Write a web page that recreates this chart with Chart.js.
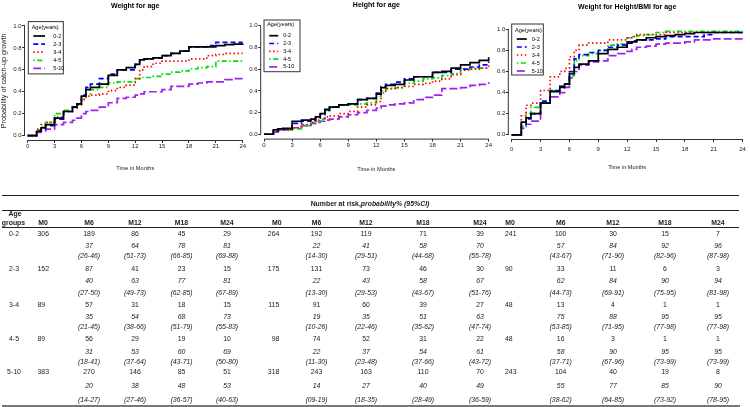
<!DOCTYPE html>
<html><head><meta charset="utf-8">
<script src="https://cdn.jsdelivr.net/npm/chart.js@4.4.0/dist/chart.umd.min.js"></script>
<style>
html,body{margin:0;padding:0;background:#fff;}
body{width:750px;height:407px;overflow:hidden;position:relative;font-family:"Liberation Sans",Arial,sans-serif;}
canvas{position:absolute;}
#tbl{position:absolute;left:0;top:0;width:750px;height:407px;will-change:transform;}
.t{position:absolute;white-space:nowrap;font-size:6.9px;line-height:10px;color:#1a1a1a;}
.b{font-weight:bold;}
.i{font-style:italic;}
.hl{position:absolute;height:0;border-top:1px solid #222;}
</style></head><body>
<canvas id="c1" width="250" height="185" style="left:0;top:0"></canvas>
<canvas id="c2" width="260" height="185" style="left:240px;top:0"></canvas>
<canvas id="c3" width="265" height="185" style="left:485px;top:0"></canvas>
<div id="tbl"></div>
<script>
// ---------------- data ----------------
const ageGroups = ["0-2", "2-3", "3-4", "4-5", "5-10"];
const months = [0, 1, 1.5, 2, 3, 4, 5, 5.5, 6, 6.5, 7, 8, 9, 10, 11, 12, 12.5, 13, 14, 15, 16, 17, 18, 19, 20, 21, 22, 23, 24];
const xTickValues = [0, 3, 6, 9, 12, 15, 18, 21, 24];
const yTickValues = [0, 0.2, 0.4, 0.6, 0.8, 1.0];
const chartTitles = ["Weight for age", "Height for age", "Weight for Height/BMI for age"];
const xAxisTitle = "Time in Months";
const yAxisTitle = "Probability of catch-up growth";
const legendTitle = "Age(years)";

const wfa02  = [0, 0.04, 0.07, 0.10, 0.16, 0.22, 0.26, 0.29, 0.36, 0.42, 0.44, 0.47, 0.55, 0.60, 0.62, 0.65, 0.69, 0.70, 0.71, 0.73, 0.75, 0.77, 0.81, 0.81, 0.81, 0.82, 0.83, 0.835, 0.84];
const wfa23  = [0, 0.04, 0.06, 0.09, 0.15, 0.22, 0.26, 0.29, 0.37, 0.44, 0.47, 0.52, 0.56, 0.60, 0.60, 0.65, 0.69, 0.70, 0.71, 0.73, 0.75, 0.77, 0.81, 0.81, 0.82, 0.85, 0.85, 0.85, 0.85];
const wfa34  = [0, 0.06, 0.10, 0.12, 0.17, 0.22, 0.25, 0.28, 0.33, 0.36, 0.37, 0.38, 0.41, 0.44, 0.46, 0.52, 0.60, 0.63, 0.66, 0.68, 0.68, 0.68, 0.70, 0.70, 0.73, 0.74, 0.75, 0.75, 0.75];
const wfa45  = [0, 0.05, 0.08, 0.12, 0.20, 0.23, 0.26, 0.28, 0.33, 0.38, 0.42, 0.44, 0.48, 0.49, 0.49, 0.52, 0.53, 0.53, 0.54, 0.56, 0.58, 0.59, 0.61, 0.62, 0.63, 0.68, 0.68, 0.68, 0.68];
const wfa510 = [0, 0.03, 0.04, 0.06, 0.10, 0.12, 0.14, 0.16, 0.20, 0.22, 0.23, 0.26, 0.30, 0.34, 0.35, 0.37, 0.38, 0.40, 0.40, 0.42, 0.45, 0.45, 0.47, 0.48, 0.49, 0.49, 0.51, 0.52, 0.525];

const hfa02  = [0, 0.04, 0.05, 0.055, 0.12, 0.13, 0.14, 0.16, 0.19, 0.23, 0.25, 0.27, 0.28, 0.32, 0.33, 0.37, 0.43, 0.45, 0.46, 0.50, 0.53, 0.53, 0.57, 0.58, 0.61, 0.64, 0.66, 0.68, 0.71];
const hfa23  = [0, 0.03, 0.05, 0.05, 0.10, 0.12, 0.13, 0.15, 0.18, 0.22, 0.25, 0.27, 0.28, 0.32, 0.33, 0.38, 0.44, 0.46, 0.48, 0.51, 0.53, 0.53, 0.57, 0.57, 0.60, 0.60, 0.62, 0.64, 0.67];
const hfa34  = [0, 0.03, 0.04, 0.04, 0.06, 0.09, 0.11, 0.13, 0.15, 0.16, 0.17, 0.19, 0.21, 0.25, 0.27, 0.30, 0.38, 0.42, 0.43, 0.44, 0.46, 0.47, 0.49, 0.51, 0.55, 0.59, 0.60, 0.61, 0.64];
const hfa45  = [0, 0.03, 0.04, 0.04, 0.05, 0.08, 0.10, 0.12, 0.14, 0.22, 0.25, 0.27, 0.27, 0.28, 0.29, 0.35, 0.40, 0.42, 0.43, 0.47, 0.49, 0.51, 0.52, 0.54, 0.56, 0.60, 0.61, 0.61, 0.61];
const hfa510 = [0, 0.02, 0.03, 0.04, 0.06, 0.08, 0.10, 0.11, 0.12, 0.13, 0.14, 0.16, 0.18, 0.20, 0.22, 0.24, 0.26, 0.27, 0.28, 0.29, 0.32, 0.34, 0.36, 0.42, 0.42, 0.43, 0.45, 0.46, 0.48];

const whz02  = [0, 0.12, 0.16, 0.20, 0.30, 0.41, 0.45, 0.48, 0.58, 0.64, 0.67, 0.70, 0.77, 0.81, 0.83, 0.87, 0.88, 0.90, 0.92, 0.93, 0.94, 0.95, 0.96, 0.97, 0.97, 0.97, 0.97, 0.97, 0.97];
const whz23  = [0, 0.10, 0.15, 0.20, 0.32, 0.42, 0.46, 0.48, 0.60, 0.72, 0.76, 0.78, 0.80, 0.83, 0.85, 0.88, 0.89, 0.90, 0.90, 0.91, 0.93, 0.93, 0.93, 0.93, 0.95, 0.97, 0.97, 0.97, 0.97];
const whz34  = [0, 0.18, 0.28, 0.30, 0.42, 0.55, 0.60, 0.63, 0.74, 0.80, 0.85, 0.87, 0.87, 0.90, 0.90, 0.92, 0.93, 0.95, 0.95, 0.95, 0.97, 0.97, 0.97, 0.97, 0.97, 0.97, 0.97, 0.97, 0.97];
const whz45  = [0, 0.08, 0.20, 0.26, 0.30, 0.42, 0.46, 0.48, 0.56, 0.70, 0.75, 0.77, 0.80, 0.85, 0.86, 0.92, 0.93, 0.94, 0.95, 0.97, 0.98, 0.98, 0.98, 0.98, 0.98, 0.98, 0.98, 0.98, 0.98];
const whz510 = [0, 0.06, 0.10, 0.13, 0.30, 0.36, 0.40, 0.45, 0.54, 0.60, 0.66, 0.69, 0.70, 0.75, 0.77, 0.79, 0.81, 0.83, 0.84, 0.86, 0.87, 0.87, 0.88, 0.90, 0.90, 0.91, 0.91, 0.91, 0.91];

// table
const tableTitleBold = "Number at risk,";
const tableTitleItalic = "probability% (95%CI)";
const timeCols = ["M0", "M6", "M12", "M18", "M24"];
const wfaAtRisk = [[306,189,86,45,29],[152,87,41,23,15],[89,57,31,18,15],[89,56,29,19,10],[383,270,146,85,51]];
const wfaProb   = [[37,64,78,81],[40,63,77,81],[35,54,68,73],[31,53,60,69],[20,38,48,53]];
const wfaCI     = [["26-46","51-73","66-85","69-88"],["27-50","49-73","62-85","67-89"],["21-45","38-66","51-79","55-83"],["18-41","37-64","43-71","50-80"],["14-27","27-46","36-57","40-63"]];
const hfaAtRisk = [[264,192,119,71,39],[175,131,73,46,30],[115,91,60,39,27],[98,74,52,31,22],[318,243,163,110,70]];
const hfaProb   = [[22,41,58,70],[22,43,58,67],[19,35,51,63],[22,37,54,61],[14,27,40,49]];
const hfaCI     = [["14-30","29-51","44-68","55-78"],["13-30","29-53","43-67","51-76"],["10-26","22-46","35-62","47-74"],["11-30","23-48","37-66","43-72"],["09-19","18-35","28-49","36-59"]];
const whzAtRisk = [[241,100,30,15,7],[90,33,11,6,3],[48,13,4,1,1],[48,16,3,1,1],[243,104,40,19,8]];
const whzProb   = [[57,84,92,96],[62,84,90,94],[75,88,95,95],[58,90,95,95],[55,77,85,90]];
const whzCI     = [["43-67","71-90","82-96","87-98"],["44-73","69-91","75-95","81-98"],["53-85","71-95","77-98","77-98"],["37-71","67-96","73-99","73-99"],["38-62","64-85","73-92","78-95"]];

// ---------------- styles ----------------
const F = '"Liberation Sans", Arial, sans-serif';
Chart.defaults.font.family = F;
const groupColors = ["#000000", "#0000FF", "#FF0000", "#00E000", "#A020F0"];
const groupDash = [[], [5, 3], [1.5, 2.5], [1.5, 2.5, 5, 2.5], [8, 3]];

const rPlot = {
  id: 'rplot',
  afterDatasetsDraw(chart, args, L) {
    const {ctx, chartArea: a, scales: {x, y}} = chart;
    ctx.save();
    ctx.strokeStyle = '#333'; ctx.lineWidth = 1; ctx.setLineDash([]);
    ctx.beginPath();
    ctx.moveTo(x.getPixelForValue(0), a.bottom + 0.5); ctx.lineTo(x.getPixelForValue(24), a.bottom + 0.5);
    ctx.moveTo(a.left - 0.5, y.getPixelForValue(0)); ctx.lineTo(a.left - 0.5, y.getPixelForValue(1));
    ctx.stroke();
    // legend box
    ctx.strokeRect(a.left + L.bx, a.top + L.by, L.bw, L.bh);
    ctx.font = '5.5px ' + F; ctx.fillStyle = '#000'; ctx.textBaseline = 'middle'; ctx.textAlign = 'left';
    ctx.fillText(legendTitle, a.left + L.tx, a.top + L.ty);
    chart.data.datasets.forEach((ds, i) => {
      const yy = a.top + L.iy + i * L.step;
      ctx.beginPath();
      ctx.setLineDash(ds.borderDash || []);
      ctx.strokeStyle = ds.borderColor; ctx.lineWidth = ds.borderWidth;
      ctx.moveTo(a.left + L.lx1, yy); ctx.lineTo(a.left + L.lx2, yy);
      ctx.stroke();
      ctx.setLineDash([]);
      ctx.fillText(ds.label, a.left + L.labx, yy);
    });
    ctx.restore();
  }
};

function makeChart(id, title, series, g) {
  const datasets = ageGroups.map((lab, i) => ({
    label: lab,
    data: months.map((m, j) => ({x: m, y: series[i][j]})),
    borderColor: groupColors[i],
    borderDash: groupDash[i],
    borderWidth: 1.7,
    stepped: true,
    pointRadius: 0,
    fill: false
  }));
  return new Chart(document.getElementById(id), {
    type: 'line',
    data: {datasets},
    plugins: [rPlot],
    options: {
      responsive: false, animation: false, events: [],
      layout: {padding: {left: 0, right: g.padR, top: 0, bottom: 0}},
      plugins: {
        legend: {display: false}, tooltip: {enabled: false},
        title: {display: true, text: title, fullSize: false, color: '#000',
          font: {size: 7, weight: 'bold'}, padding: {top: g.tpt, bottom: g.tpb}},
        rplot: g.leg
      },
      scales: {
        x: {
          type: 'linear', min: -0.3, max: 24.3,
          afterBuildTicks: s => { s.ticks = xTickValues.map(v => ({value: v})); },
          afterFit: s => { s.height = g.xh; },
          grid: {drawOnChartArea: false, drawTicks: true, tickLength: 3, color: '#333'},
          border: {display: false},
          ticks: {font: {size: 6}, color: '#222', padding: g.xtp, maxRotation: 0, autoSkip: false},
          title: {display: true, text: xAxisTitle, color: '#222', font: {size: 5.6}, padding: {top: 0, bottom: g.xtb}}
        },
        y: {
          type: 'linear', min: -0.04, max: 1.04,
          afterBuildTicks: s => { s.ticks = yTickValues.map(v => ({value: v})); },
          afterFit: s => { s.width = g.yw; },
          grid: {drawOnChartArea: false, drawTicks: true, tickLength: 3, color: '#333'},
          border: {display: false},
          ticks: {font: {size: 6}, color: '#222', padding: 0.5, callback: v => Number(v).toFixed(1)},
          title: {display: !!g.ytitle, text: yAxisTitle, color: '#222', font: {size: 7.2}, padding: {top: 0, bottom: 0}}
        }
      }
    }
  });
}

makeChart('c1', chartTitles[0], [wfa02, wfa23, wfa34, wfa45, wfa510],
  {padR: 4.6, yw: 25, tpt: 1.8, tpb: 11.4, xh: 45, xtp: 0, xtb: 13.6, ytitle: true,
   leg: {bx: 3.3, by: 0, bw: 35, bh: 52.3, tx: 6.7, ty: 5.7, iy: 14.4, step: 8.1, lx1: 8.3, lx2: 20, labx: 28.3}});
makeChart('c2', chartTitles[1], [hfa02, hfa23, hfa34, hfa45, hfa510],
  {padR: 8.5, yw: 21.2, tpt: 0.8, tpb: 12.2, xh: 46.4, xtp: 0.5, xtb: 12.6, ytitle: false,
   leg: {bx: 2.8, by: -1.4, bw: 36, bh: 51.7, tx: 6, ty: 2.6, iy: 14.3, step: 7.8, lx1: 8, lx2: 17, labx: 22}});
makeChart('c3', chartTitles[2], [whz02, whz23, whz34, whz45, whz510],
  {padR: 2.1, yw: 23.8, tpt: 3.1, tpb: 13.6, xh: 46, xtp: 4, xtb: 14, ytitle: false,
   leg: {bx: 2.9, by: -1.1, bw: 31.6, bh: 51, tx: 6.2, ty: 5.6, iy: 13.9, step: 8, lx1: 8, lx2: 18, labx: 23}});

// ---------------- table ----------------
const tbl = document.getElementById('tbl');
function txt(html, x, y, align, cls) {
  const d = document.createElement('div');
  d.className = 't ' + (cls || '');
  d.innerHTML = html;
  if (align === 'center') { d.style.left = (x - 60) + 'px'; d.style.width = '120px'; d.style.textAlign = 'center'; }
  else if (align === 'right') { d.style.left = (x - 60) + 'px'; d.style.width = '60px'; d.style.textAlign = 'right'; }
  else { d.style.left = x + 'px'; }
  d.style.top = (y - 5) + 'px';
  tbl.appendChild(d);
}
function hline(y, x1, x2, w, c) {
  const d = document.createElement('div');
  d.className = 'hl';
  d.style.left = x1 + 'px'; d.style.width = (x2 - x1) + 'px';
  d.style.top = (y - w / 2) + 'px';
  d.style.borderTop = w + 'px solid ' + c;
  tbl.appendChild(d);
}
hline(196, 2, 739, 1.3, '#222');
hline(210, 2, 739, 1, '#222');
hline(227.6, 2, 739, 1, '#222');
hline(405.5, 2, 740, 2, '#777');
txt('<b>' + tableTitleBold + '<i>' + tableTitleItalic + '</i></b>', 370, 204.3, 'center');
txt('Age', 15, 213.5, 'center', 'b');
txt('groups', 13.5, 222.5, 'center', 'b');

const rowY = [[234.3, 245.7, 256.3], [269.3, 280.5, 293], [305, 316.7, 327.3], [339.3, 351.7, 361.7], [371.5, 385.7, 400]];
const blocks = [
  {risk: wfaAtRisk, prob: wfaProb, ci: wfaCI, m0h: 43, m0x: 37.5, m0a: 'left', cx: [89, 135, 181.5, 227]},
  {risk: hfaAtRisk, prob: hfaProb, ci: hfaCI, m0h: 276.7, m0x: 279.3, m0a: 'right', cx: [316.5, 366, 423, 480]},
  {risk: whzAtRisk, prob: whzProb, ci: whzCI, m0h: 510, m0x: 505, m0a: 'left', cx: [560.7, 613, 665, 718]}
];
blocks.forEach(bl => {
  txt(timeCols[0], bl.m0h, 222.7, 'center', 'b');
  bl.cx.forEach((cx, k) => txt(timeCols[k + 1], cx, 222.7, 'center', 'b'));
  ageGroups.forEach((ag, r) => {
    const [y1, y2, y3] = rowY[r];
    txt(String(bl.risk[r][0]), bl.m0x, y1, bl.m0a);
    bl.cx.forEach((cx, k) => {
      txt(String(bl.risk[r][k + 1]), cx, y1, 'center');
      txt(String(bl.prob[r][k]), cx, y2, 'center', 'i');
      txt('(' + bl.ci[r][k] + ')', cx, y3, 'center', 'i');
    });
  });
});
ageGroups.forEach((ag, r) => txt(ag, 14, rowY[r][0], 'center'));
</script>
</body></html>
